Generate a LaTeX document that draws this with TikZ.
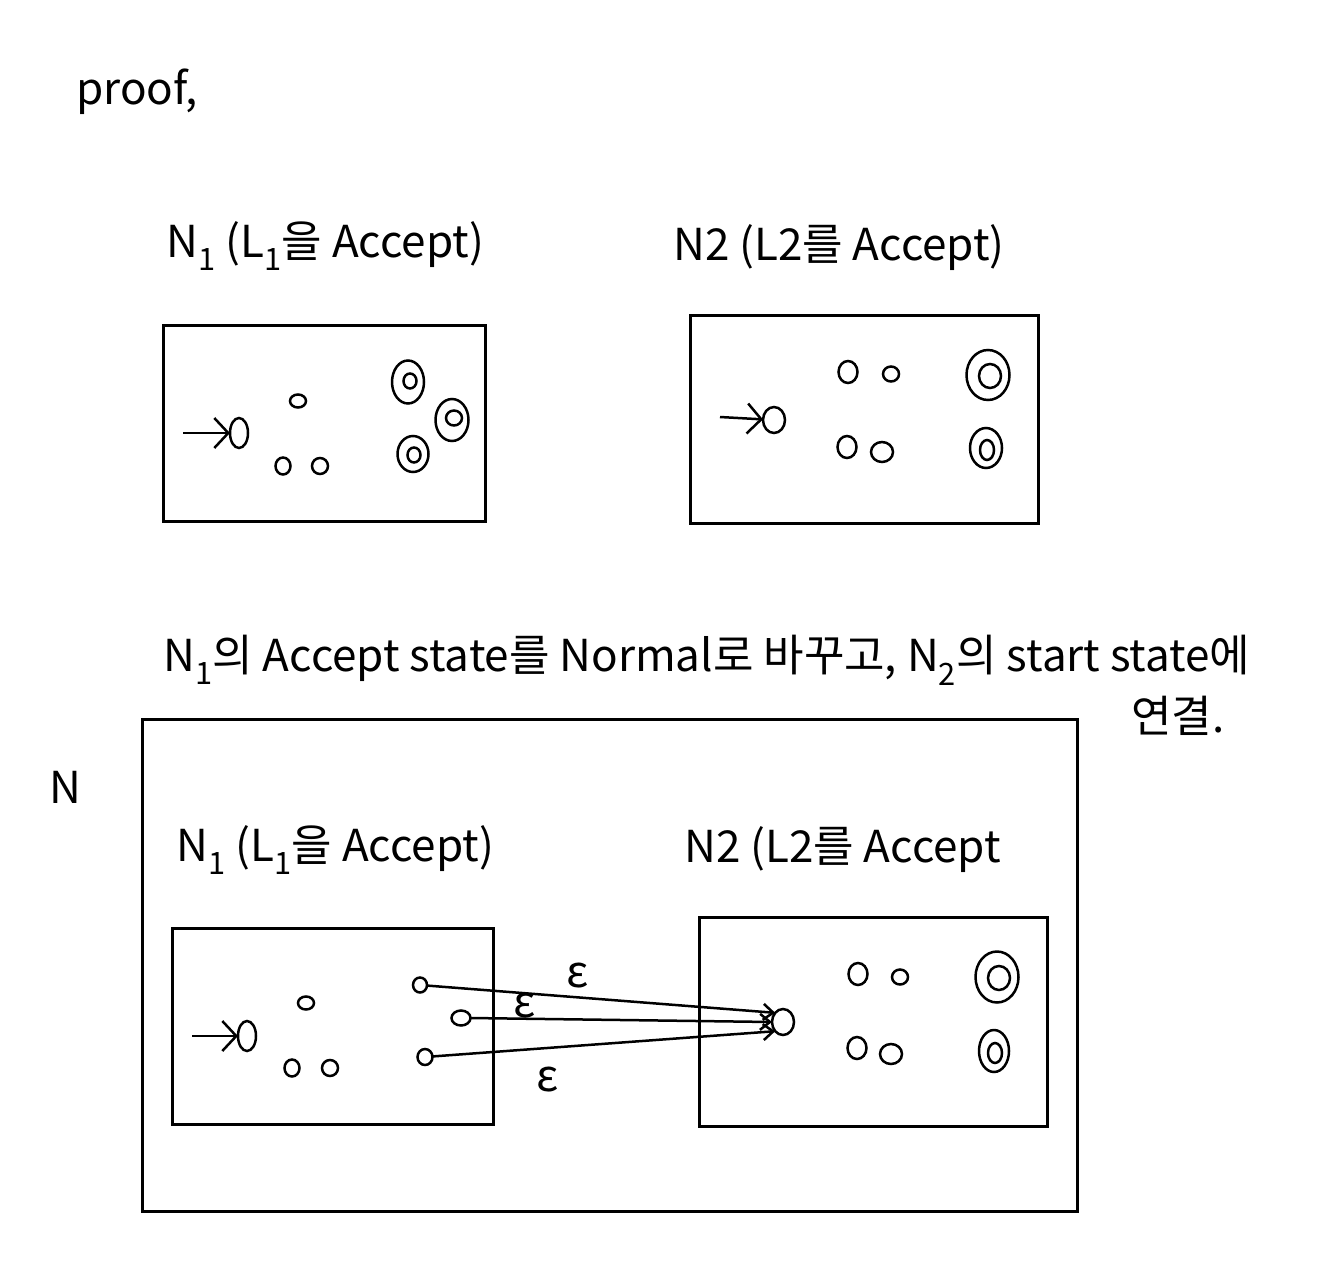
\documentclass[tikz,border=0pt]{standalone}
\usepackage{fontspec}
\setmainfont{Noto Sans CJK KR}
\usetikzlibrary{shapes.geometric,arrows.meta}
\begin{document}
\begin{tikzpicture}[x=1pt,y=-1pt,
  hand/.style={font=\fontsize{44}{48}\selectfont, inner sep=0pt},
  eps/.style={font=\fontsize{44}{46}\selectfont, inner sep=0pt},
  frame/.style={draw, line width=3pt, inner sep=0pt, outer sep=0pt},
  st/.style={draw, ellipse, line width=2.5pt, inner sep=0pt, outer sep=0pt},
  arr/.style={-{Straight Barb[length=14pt,width=30pt]}, line width=2.5pt},
  earr/.style={-{Straight Barb[length=10pt,width=16pt]}, line width=2.5pt},
]
\useasboundingbox (0,0) rectangle (1321,1276);
\fill[white] (0,0) rectangle (1321,1276);

% header
\node[hand] (proof) at (137,92) {proof,};

% top titles
\node[hand, anchor=west] (t1title) at (166,246) {N\textsubscript{1} (L\textsubscript{1}을 Accept)};
\node[hand, anchor=west] (t2title) at (673,248) {N2 (L2를 Accept)};

% top boxes
\node[frame, minimum width=322pt, minimum height=196pt] (t1box) at (324,423) {};
\node[frame, minimum width=348pt, minimum height=208pt] (t2box) at (864,419) {};

% top N1 states
\node[st, minimum width=18pt, minimum height=30pt] (t1s) at (239,433) {};
\coordinate (t1in) at (183,433);
\draw[arr] (t1in) -- (t1s);
\node[st, minimum width=16pt, minimum height=13pt] (t1a) at (298,401) {};
\node[st, minimum width=15pt, minimum height=17pt] (t1b) at (283,466) {};
\node[st, minimum width=16pt, minimum height=16pt] (t1c) at (320,466) {};
\node[st, minimum width=32pt, minimum height=43pt] (t1f1) at (408,382) {};
\node[st, minimum width=13pt, minimum height=15pt] (t1f1i) at (410,381) {};
\node[st, minimum width=33pt, minimum height=42pt] (t1f2) at (452,420) {};
\node[st, minimum width=16pt, minimum height=15pt] (t1f2i) at (454,418) {};
\node[st, minimum width=31pt, minimum height=36pt] (t1f3) at (413,454) {};
\node[st, minimum width=13pt, minimum height=15pt] (t1f3i) at (414,455) {};

% top N2 states
\node[st, minimum width=22pt, minimum height=26pt] (t2s) at (774,420) {};
\coordinate (t2in) at (720,417);
\draw[arr] (t2in) -- (t2s);
\node[st, minimum width=19pt, minimum height=22pt] (t2a) at (848,372) {};
\node[st, minimum width=16pt, minimum height=15pt] (t2b) at (891,374) {};
\node[st, minimum width=19pt, minimum height=22pt] (t2c) at (847,447) {};
\node[st, minimum width=22pt, minimum height=20pt] (t2d) at (882,452) {};
\node[st, minimum width=43pt, minimum height=50pt] (t2f1) at (988,375) {};
\node[st, minimum width=22pt, minimum height=24pt] (t2f1i) at (990,376) {};
\node[st, minimum width=32pt, minimum height=40pt] (t2f2) at (986,448) {};
\node[st, minimum width=14pt, minimum height=20pt] (t2f2i) at (987,450) {};

% sentence
\node[hand, anchor=west] (sent) at (163,660) {N\textsubscript{1}의 Accept state를 Normal로 바꾸고, N\textsubscript{2}의 start state에};
\node[hand] (sent2) at (1178,716) {연결.};

% N label and outer box
\node[hand] (Nlabel) at (65,787) {N};
\node[frame, minimum width=935pt, minimum height=492pt] (nbox) at (609.5,965) {};

% bottom titles
\node[hand, anchor=west] (b1title) at (176,850) {N\textsubscript{1} (L\textsubscript{1}을 Accept)};
\node[hand, anchor=west] (b2title) at (684,850) {N2 (L2를 Accept};

% bottom boxes
\node[frame, minimum width=321pt, minimum height=196pt] (b1box) at (332.5,1026) {};
\node[frame, minimum width=348pt, minimum height=209pt] (b2box) at (873,1021.5) {};

% bottom N1 states
\node[st, minimum width=18pt, minimum height=30pt] (b1s) at (247,1036) {};
\coordinate (b1in) at (192,1036);
\draw[arr] (b1in) -- (b1s);
\node[st, minimum width=16pt, minimum height=13pt] (b1a) at (306,1003) {};
\node[st, minimum width=15pt, minimum height=17pt] (b1b) at (292,1068) {};
\node[st, minimum width=16pt, minimum height=16pt] (b1c) at (330,1068) {};
\node[st, minimum width=14pt, minimum height=15pt] (b1f1) at (420,985) {};
\node[st, minimum width=19pt, minimum height=15pt] (b1f2) at (461,1018) {};
\node[st, minimum width=15pt, minimum height=16pt] (b1f3) at (425,1057) {};

% bottom N2 states
\node[st, minimum width=22pt, minimum height=26pt] (b2s) at (783,1022) {};
\node[st, minimum width=19pt, minimum height=22pt] (b2a) at (858,974) {};
\node[st, minimum width=16pt, minimum height=15pt] (b2b) at (900,977) {};
\node[st, minimum width=19pt, minimum height=22pt] (b2c) at (857,1048) {};
\node[st, minimum width=22pt, minimum height=20pt] (b2d) at (891,1054) {};
\node[st, minimum width=43pt, minimum height=51pt] (b2f1) at (997,977) {};
\node[st, minimum width=22pt, minimum height=24pt] (b2f1i) at (999,978) {};
\node[st, minimum width=30pt, minimum height=42pt] (b2f2) at (994,1051) {};
\node[st, minimum width=14pt, minimum height=20pt] (b2f2i) at (995,1053) {};

% epsilon transitions
\draw[earr] (b1f1) -- (b2s.north west);
\draw[earr] (b1f2.east) -- (b2s.west);
\draw[earr] (b1f3) -- (b2s.south west);
\node[eps] (e1) at (578,976) {ε};
\node[eps] (e2) at (525,1006) {ε};
\node[eps] (e3) at (548,1080) {ε};
\end{tikzpicture}
\end{document}
